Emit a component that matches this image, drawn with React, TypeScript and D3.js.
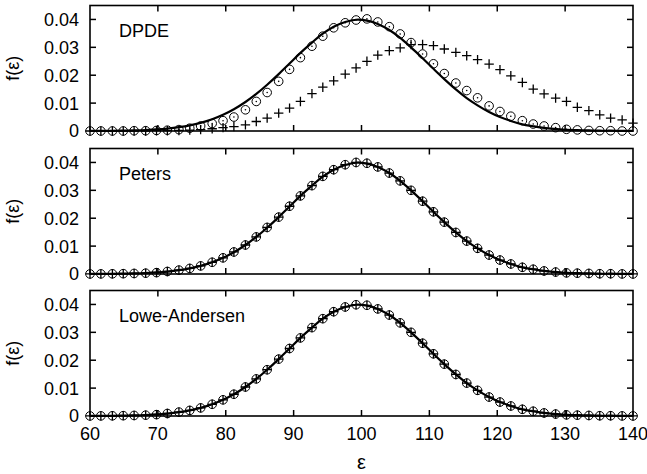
import React from 'react';
import * as d3 from 'd3';

// energy grid (marker positions)
const eps = [60, 61.6, 63.3, 64.9, 66.5, 68.2, 69.8, 71.4, 73.1, 74.7, 76.3, 78.0, 79.6, 81.2, 82.9, 84.5, 86.1, 87.8, 89.4, 91.0,
  92.7, 94.3, 95.9, 97.6, 99.2, 100.8, 102.4, 104.1, 105.7, 107.3, 109.0, 110.6, 112.2, 113.9, 115.5, 117.1, 118.8, 120.4, 122.0, 123.7,
  125.3, 126.9, 128.6, 130.2, 131.8, 133.5, 135.1, 136.7, 138.4, 140.0];

// solid reference curve
const curveF = [0.00002, 0.00004, 0.00007, 0.00012, 0.00021, 0.00035, 0.00056, 0.00087, 0.00136, 0.0020, 0.0029, 0.0042, 0.0058, 0.0078, 0.0104,
  0.0133, 0.0166, 0.0204, 0.0242, 0.0280, 0.0317, 0.0349, 0.0374, 0.0391, 0.0399, 0.0396, 0.0384, 0.0362, 0.0334, 0.0300,
  0.0261, 0.0223, 0.0186, 0.0149, 0.0118, 0.0092, 0.0068, 0.0050, 0.0036, 0.0024, 0.0017, 0.0011, 0.0007, 0.0004, 0.0003,
  0.0002, 0.0001, 0.0001, 0.00003, 0.00002];

// DPDE
const dpdeCircle = [0, 0, 0, 0, 0.0001, 0.0001, 0.0002, 0.0003, 0.0005, 0.0010, 0.0018, 0.0027, 0.0037, 0.0050, 0.0076,
  0.0106, 0.0138, 0.0178, 0.0221, 0.0263, 0.0304, 0.0340, 0.0370, 0.0388, 0.0398, 0.0402, 0.0391, 0.0374, 0.0348, 0.0317,
  0.0276, 0.0241, 0.0206, 0.0172, 0.0145, 0.0119, 0.0090, 0.0070, 0.0053, 0.0037, 0.0025, 0.0018, 0.0012, 0.0006, 0.0004,
  0.0002, 0.0001, 0.0001, 0, 0];
const dpdePlus = [0, 0, 0, 0, 0, 0, 0.0001, 0.0001, 0.0002, 0.0003, 0.0005, 0.0008, 0.0012, 0.0016, 0.0022,
  0.0034, 0.0046, 0.0064, 0.0082, 0.0106, 0.0134, 0.0157, 0.0180, 0.0204, 0.0226, 0.0250, 0.0272, 0.0288, 0.0298, 0.0310,
  0.0310, 0.0306, 0.0294, 0.0282, 0.0270, 0.0256, 0.0240, 0.0220, 0.0198, 0.0174, 0.0150, 0.0133, 0.0118, 0.0106, 0.0085,
  0.0073, 0.0058, 0.0046, 0.0040, 0.0028];

// Peters and Lowe-Andersen sit on the curve (circle and plus overlap)
const petersF = [0.00002, 0.00004, 0.00007, 0.00012, 0.0002, 0.0003, 0.0005, 0.0009, 0.0014, 0.0020, 0.0029, 0.0042, 0.0058, 0.0079, 0.0104,
  0.0133, 0.0167, 0.0204, 0.0243, 0.0280, 0.0317, 0.0350, 0.0374, 0.0392, 0.0400, 0.0397, 0.0384, 0.0362, 0.0334, 0.0300,
  0.0261, 0.0223, 0.0186, 0.0149, 0.0118, 0.0092, 0.0068, 0.0050, 0.0036, 0.0024, 0.0017, 0.0011, 0.0007, 0.0004, 0.0003,
  0.0002, 0.0001, 0.0001, 0.00003, 0.00002];
const loweF = [0.00002, 0.00004, 0.00007, 0.00012, 0.0002, 0.0003, 0.0005, 0.0009, 0.0014, 0.0020, 0.0029, 0.0042, 0.0058, 0.0078, 0.0104,
  0.0133, 0.0166, 0.0204, 0.0242, 0.0280, 0.0317, 0.0349, 0.0374, 0.0391, 0.0399, 0.0397, 0.0384, 0.0362, 0.0334, 0.0300,
  0.0261, 0.0223, 0.0186, 0.0149, 0.0118, 0.0092, 0.0068, 0.0050, 0.0036, 0.0024, 0.0017, 0.0011, 0.0007, 0.0004, 0.0003,
  0.0002, 0.0001, 0.0001, 0.00003, 0.00002];

const xTicks = [60, 70, 80, 90, 100, 110, 120, 130, 140];
const yTicks = [0, 0.01, 0.02, 0.03, 0.04];
const panelNames = ['DPDE', 'Peters', 'Lowe-Andersen'];

const W = 647, H = 474;
const FONT = 'Liberation Sans, Arial, Helvetica, sans-serif';
const FS = 18;
const panelTops = [5.5, 148.5, 290.5];
const panelH = 125.5;

const x = d3.scaleLinear().domain([60, 140]).range([90, 633]);

const Panel = ({top, name, circles, pluses, dotted, last}) => {
  const y = d3.scaleLinear().domain([0, 0.045]).range([top + panelH, top]);
  const line = d3.line<number>()
    .x((d, i) => x(eps[i]))
    .y(d => y(d))
    .curve(d3.curveCatmullRom);
  const y0 = y(0);
  return (
    <g>
      {/* ticks */}
      {xTicks.slice(1, -1).map(t => (
        <g key={'xt' + t}>
          <line x1={x(t)} x2={x(t)} y1={y0} y2={y0 - 6} stroke="#000" strokeWidth={1.5}/>
          <line x1={x(t)} x2={x(t)} y1={top} y2={top + 6} stroke="#000" strokeWidth={1.5}/>
        </g>
      ))}
      {yTicks.slice(1).map(t => (
        <g key={'yt' + t}>
          <line x1={x(60)} x2={x(60) + 6} y1={y(t)} y2={y(t)} stroke="#000" strokeWidth={1.5}/>
          <line x1={x(140)} x2={x(140) - 6} y1={y(t)} y2={y(t)} stroke="#000" strokeWidth={1.5}/>
        </g>
      ))}
      {yTicks.map(t => (
        <text key={'yl' + t} x={79} y={y(t)} dy="0.36em" textAnchor="end" fontSize={FS} fontFamily={FONT}>
          {t === 0 ? '0' : t.toFixed(2)}
        </text>
      ))}
      <text transform={`translate(19,${top + panelH / 2}) rotate(-90)`} textAnchor="middle" fontSize={FS} fontFamily={FONT}>f(ε)</text>
      <text x={119} y={top + 31.5} fontSize={FS} fontFamily={FONT}>{name}</text>

      <path d={line(curveF)} fill="none" stroke="#000" strokeWidth={2.2}/>

      {circles.map((d, i) => (
        <g key={'c' + i}>
          <circle cx={x(eps[i])} cy={y(d)} r={4.3} fill="none" stroke="#000" strokeWidth={1}/>
          {dotted && <circle cx={x(eps[i])} cy={y(d)} r={0.8} fill="#000"/>}
        </g>
      ))}
      {pluses.map((d, i) => (
        <path key={'p' + i}
          d={`M${x(eps[i]) - 4.7},${y(d)}h9.4M${x(eps[i])},${y(d) - 4.7}v9.4`}
          stroke="#000" strokeWidth={1.3} fill="none"/>
      ))}

      <rect x={x(60)} y={top} width={x(140) - x(60)} height={panelH} fill="none" stroke="#000" strokeWidth={1.6}/>

      {last && xTicks.map(t => (
        <text key={'xl' + t} x={x(t)} y={y0 + 24} textAnchor="middle" fontSize={FS} fontFamily={FONT}>{t}</text>
      ))}
    </g>
  );
};

export default function App() {
  const sets = [
    {circles: dpdeCircle, pluses: dpdePlus, dotted: true},
    {circles: petersF, pluses: petersF, dotted: false},
    {circles: loweF, pluses: loweF, dotted: false},
  ];
  return (
    <svg width={W} height={H} style={{position: 'absolute', left: 0, top: 0, background: '#fff'}}>
      <rect width={W} height={H} fill="#fff"/>
      {sets.map((s, k) => (
        <Panel key={k} top={panelTops[k]} name={panelNames[k]} circles={s.circles} pluses={s.pluses}
          dotted={s.dotted} last={k === 2}/>
      ))}
      <text x={x(100)} y={469} textAnchor="middle" fontSize={FS + 2} fontFamily={FONT}>ε</text>
    </svg>
  );
}
